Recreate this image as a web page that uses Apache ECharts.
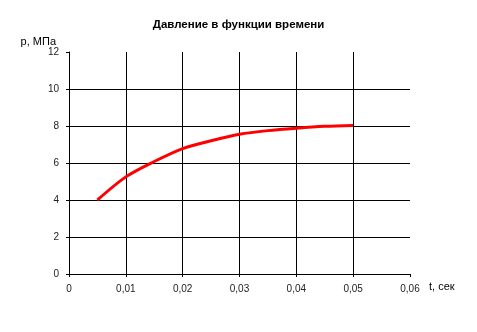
<!DOCTYPE html>
<html>
<head>
<meta charset="utf-8">
<script src="https://cdn.jsdelivr.net/npm/echarts@6/dist/echarts.min.js"></script>
<style>
  html, body { margin: 0; padding: 0; background: #fff; }
  #chart { width: 477px; height: 332px; }
</style>
</head>
<body>
<div id="chart"></div>
<script>
// Time, s
const timeSec = [0.005, 0.01, 0.015, 0.02, 0.025, 0.03, 0.035, 0.04, 0.045, 0.05];
// Pressure, MPa
const pressureMPa = [4.0, 5.25, 6.08, 6.78, 7.2, 7.55, 7.75, 7.88, 7.98, 8.03];

const chartTitle = 'Давление в функции времени';
const yName = 'p, МПа';
const xName = 't, сек';

const font = '"Liberation Sans", Arial, sans-serif';

const chart = echarts.init(document.getElementById('chart'), null, { renderer: 'canvas' });

const fmtTick = v => (v === 0 ? '0' : v.toFixed(2).replace('.', ','));

chart.setOption({
  animation: false,
  backgroundColor: '#fff',
  title: {
    text: chartTitle,
    left: 'center',
    top: 14,
    textStyle: { fontFamily: font, fontSize: 11.5, fontWeight: 'bold', color: '#000' }
  },
  grid: { left: 69, right: 67, top: 52, bottom: 58, containLabel: false },
  xAxis: {
    type: 'value',
    min: 0, max: 0.06, interval: 0.01,
    name: xName,
    nameLocation: 'end',
    nameGap: 19,
    nameTextStyle: { fontFamily: font, fontSize: 11, color: '#000', align: 'left', verticalAlign: 'top', padding: [7, 0, 0, 0] },
    axisLine: { show: true, lineStyle: { color: '#000', width: 1 } },
    axisTick: { show: true, length: 3, lineStyle: { color: '#000' } },
    axisLabel: { formatter: fmtTick, fontFamily: font, fontSize: 10, color: '#222', margin: 10 },
    splitLine: { show: true, showMinLine: false, showMaxLine: false, lineStyle: { color: '#000', width: 1 } }
  },
  yAxis: {
    type: 'value',
    min: 0, max: 12, interval: 2,
    name: yName,
    nameLocation: 'end',
    nameGap: 10,
    nameTextStyle: { fontFamily: font, fontSize: 11, color: '#000', align: 'right', verticalAlign: 'middle', padding: [0, 13, 0, 0] },
    axisLine: { show: true, lineStyle: { color: '#000', width: 1 } },
    axisTick: { show: true, length: 3, lineStyle: { color: '#000' } },
    axisLabel: { fontFamily: font, fontSize: 10, color: '#222', margin: 10 },
    splitLine: { show: true, showMinLine: false, showMaxLine: false, lineStyle: { color: '#000', width: 1 } }
  },
  series: [{
    type: 'line',
    data: timeSec.map((t, i) => [t, pressureMPa[i]]),
    smooth: 0.3,
    showSymbol: false,
    lineStyle: { color: '#ff0000', width: 3 }
  }]
});
</script>
</body>
</html>
